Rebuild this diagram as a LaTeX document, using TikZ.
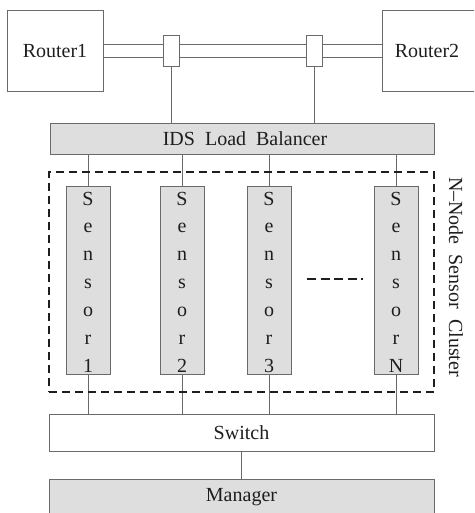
\documentclass[tikz,border=0pt]{standalone}
\usepackage{fontspec}
\setmainfont{Liberation Serif}
\definecolor{boxfill}{HTML}{DEDEDE}
\definecolor{edge}{HTML}{6A6A6A}
\definecolor{ink}{HTML}{1E1E1E}
\newcommand\widespacing{\spaceskip=10pt\relax}
\begin{document}
\begin{tikzpicture}[x=1pt,y=-1pt,
  lbl/.style={font=\fontsize{20}{22}\selectfont, text=ink, execute at begin node=\widespacing},
  plain/.style={draw=edge, line width=0.7pt, fill=white, inner sep=0pt},
  shaded/.style={draw=edge, line width=0.7pt, fill=boxfill, inner sep=0pt},
  sensorbox/.style={shaded, minimum width=44pt, minimum height=188pt},
  letter/.style={lbl, anchor=base, inner sep=0pt},
  wire/.style={draw=edge, line width=0.7pt},
  clusterline/.style={draw=ink, line width=1.5pt, dash pattern=on 8pt off 5pt}
]
\useasboundingbox (0,0) rectangle (474,513);
\clip (0,0) rectangle (474,513);

% routers
\node[plain, minimum width=96pt, minimum height=81pt] (r1) at (55,50.5) {};
\node[lbl] (r1t) at (55,50.5) {Router1};
\node[plain, minimum width=100pt, minimum height=81pt] (r2) at (432,50.5) {};
\node[lbl] (r2t) at (427,50.5) {Router2};

% pipe
\coordinate (p1a) at (103,44); \coordinate (p2a) at (382,44);
\coordinate (p1b) at (103,57); \coordinate (p2b) at (382,57);
\draw[wire] (p1a) -- (p2a);
\draw[wire] (p1b) -- (p2b);
\node[plain, minimum width=16pt, minimum height=31pt] (tap1) at (171,50.5) {};
\node[plain, minimum width=16pt, minimum height=31pt] (tap2) at (314,50.5) {};

% load balancer
\node[shaded, minimum width=384pt, minimum height=31pt] (lb) at (242,138.5) {};
\node[lbl] (lbt) at (245,138.5) {IDS Load Balancer};
\draw[wire] (tap1.south) -- (tap1.south |- lb.north);
\draw[wire] (tap2.south) -- (tap2.south |- lb.north);

% switch and manager
\node[plain, minimum width=385pt, minimum height=37pt] (sw) at (241.5,432.5) {};
\node[lbl] (swt) at (241.5,432.5) {Switch};
\node[shaded, minimum width=385pt, minimum height=36pt] (mg) at (241.5,497) {};
\node[lbl] (mgt) at (241.5,497) {Manager};
\draw[wire] (sw.south) -- (mg.north);

% sensors
\foreach \i/\x/\lab in {1/88/1,2/182/2,3/269/3,4/396/N}{
  \node[sensorbox] (s\i) at (\x,280) {};
  \draw[wire] (s\i.north) -- (s\i.north |- lb.south);
  \draw[wire] (s\i.south) -- (s\i.south |- sw.north);
  \foreach \ch [count=\k] in {S,e,n,s,o,r,\lab}{
    \node[letter] (s\i c\k) at (\x,{205+27.9*(\k-1)}) {\ch};
  }
}

% cluster
\node[clusterline, fill=none, minimum width=385pt, minimum height=220pt, inner sep=0pt] (cl) at (241.5,282) {};
\coordinate (d1) at (307,279); \coordinate (d2) at (363,279);
\draw[draw=ink, line width=1.3pt, dash pattern=on 9pt off 4.5pt] (d1) -- (d2);
\node[lbl, rotate=-90] (clt) at (456,277) {N–Node Sensor Cluster};
\end{tikzpicture}
\end{document}
